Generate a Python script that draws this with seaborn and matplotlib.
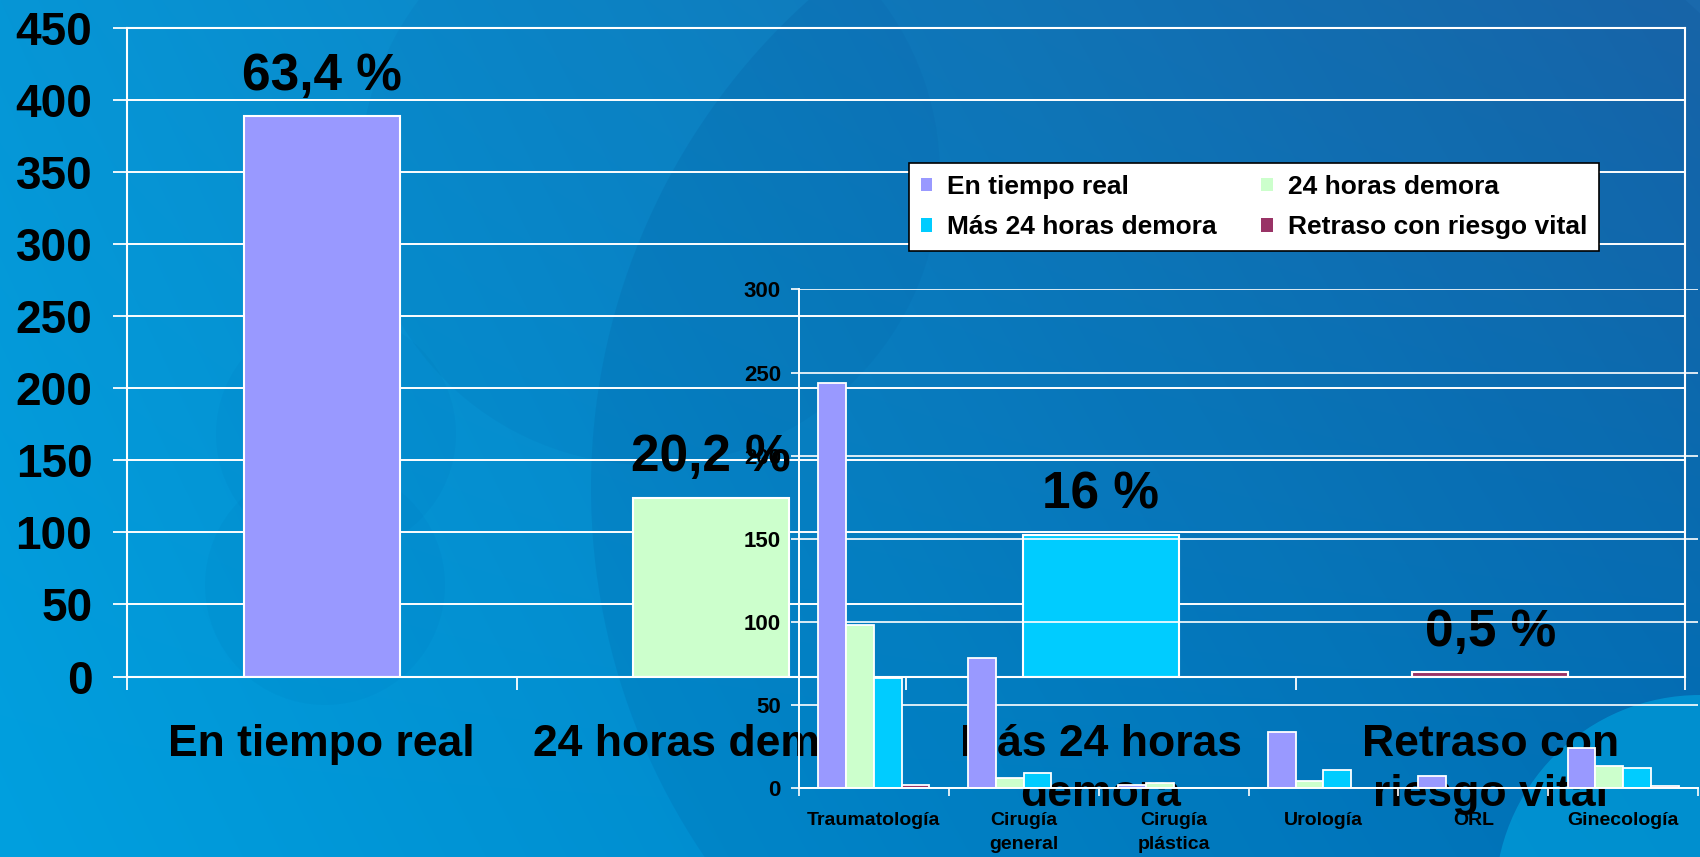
import numpy as np
import pandas as pd
import matplotlib
matplotlib.use("Agg")
import matplotlib.pyplot as plt
import seaborn as sns
from matplotlib.patches import Circle, Patch

# ---------------- data ----------------
main_categories = ["En tiempo real", "24 horas demora", "Más 24 horas\ndemora", "Retraso con\nriesgo vital"]
main_values = [389, 124, 98, 3]
main_percent_labels = ["63,4 %", "20,2 %", "16 %", "0,5 %"]
main_yticks = [0, 50, 100, 150, 200, 250, 300, 350, 400, 450]

series_names = ["En tiempo real", "24 horas demora", "Más 24 horas demora", "Retraso con riesgo vital"]
specialties = ["Traumatología", "Cirugía\ngeneral", "Cirugía\nplástica", "Urología", "ORL", "Ginecología"]
en_tiempo_real = [244, 78, 2, 34, 7, 24]
horas_24_demora = [98, 6, 3, 4, 0, 13]
mas_24_horas_demora = [66, 9, 0, 11, 0, 12]
retraso_riesgo_vital = [2, 0, 0, 0, 0, 1]
inset_yticks = [0, 50, 100, 150, 200, 250, 300]

colors = ["#9999FF", "#CCFFCC", "#00CCFF", "#993366"]

# ---------------- style ----------------
sns.set_style("white")
plt.rcParams["font.family"] = ["Liberation Sans", "DejaVu Sans"]
plt.rcParams["font.weight"] = "bold"
plt.rcParams["text.color"] = "black"
plt.rcParams["xtick.labelcolor"] = "black"
plt.rcParams["ytick.labelcolor"] = "black"

W, H = 1700, 857
fig = plt.figure(figsize=(W / 100, H / 100), dpi=100)

# background gradient
bg = fig.add_axes([0, 0, 1, 1], zorder=0)
yy, xx = np.mgrid[0:H, 0:W]
u = (xx / W)[..., None]
v = (yy / H)[..., None]
TL = np.array([6, 150, 214])
TR = np.array([27, 105, 172])
BL = np.array([0, 160, 223])
BR = np.array([0, 118, 188])
img = TL * (1 - u) * (1 - v) + TR * u * (1 - v) + BL * (1 - u) * v + BR * u * v
bg.imshow(img / 255.0, extent=[0, W, H, 0], aspect="auto", interpolation="bilinear")
bg.set_xlim(0, W)
bg.set_ylim(H, 0)
bg.axis("off")
dark = (0.0, 0.22, 0.5)
bg.add_patch(Circle((1247, 488), 656, facecolor=dark, alpha=0.10, lw=0))
bg.add_patch(Circle((650, 175), 290, facecolor=dark, alpha=0.05, lw=0))
bg.add_patch(Circle((336, 434), 120, facecolor=dark, alpha=0.035, lw=0))
bg.add_patch(Circle((325, 585), 120, facecolor=dark, alpha=0.035, lw=0))
bg.add_patch(Circle((1700, 900), 205, facecolor=(0.0, 0.62, 0.86), alpha=0.7, lw=0))

# ---------------- main chart ----------------
ax = fig.add_axes([127 / W, (H - 676.5) / H, (1685 - 127) / W, (676.5 - 28) / H], zorder=1)
ax.patch.set_alpha(0)
df_main = pd.DataFrame({"cat": main_categories, "val": main_values})
sns.barplot(data=df_main, x="cat", y="val", hue="cat", palette=colors, width=0.4,
            edgecolor="white", linewidth=1.5, saturation=1, legend=False, ax=ax)
ax.set_xlim(-0.5, 3.5)
ax.set_ylim(0, 450)
ax.set_yticks(main_yticks)
ax.set_xlabel("")
ax.set_ylabel("")
ax.grid(axis="y", color="white", lw=1.4)
ax.grid(axis="x", visible=False)
ax.set_axisbelow(True)
for s in ax.spines.values():
    s.set_color("white")
    s.set_linewidth(1.5)
    s.set_visible(True)
ax.tick_params(axis="y", length=10, width=1.3, color="white", pad=15, labelsize=33,
               left=True, labelcolor="black")
ax.tick_params(axis="x", which="major", length=0, pad=34, labelsize=32, labelcolor="black")
ax.set_xticks(np.arange(-0.5, 4, 1), minor=True)
ax.tick_params(axis="x", which="minor", length=9, width=1.3, color="white", bottom=True)
for lbl in ax.get_xticklabels():
    lbl.set_linespacing(1.28)
    lbl.set_fontweight("bold")
for lbl in ax.get_yticklabels():
    lbl.set_fontweight("bold")
for i, (v_, t) in enumerate(zip(main_values, main_percent_labels)):
    ax.annotate(t, (i, v_), xytext=(0, 19), textcoords="offset points", ha="center",
                va="baseline", fontsize=37, fontweight="bold", color="black")

# ---------------- inset chart ----------------
ins = fig.add_axes([799 / W, (H - 788) / H, (1698 - 799) / W, (788 - 289.5) / H], zorder=2)
ins.patch.set_alpha(0)
df_in = pd.DataFrame({
    "Especialidad": specialties * 4,
    "Serie": sum([[s] * len(specialties) for s in series_names], []),
    "Valor": en_tiempo_real + horas_24_demora + mas_24_horas_demora + retraso_riesgo_vital,
})
sns.barplot(data=df_in, x="Especialidad", y="Valor", hue="Serie", order=specialties,
            hue_order=series_names, palette=colors, width=0.74, edgecolor="white",
            linewidth=1.3, saturation=1, legend=False, ax=ins)
ins.set_xlim(-0.5, 5.5)
ins.set_ylim(0, 300)
ins.set_yticks(inset_yticks)
ins.set_xlabel("")
ins.set_ylabel("")
ins.grid(axis="y", color="white", lw=1.2)
ins.grid(axis="x", visible=False)
ins.set_axisbelow(True)
for k, s in ins.spines.items():
    s.set_color("white")
    s.set_linewidth(1.4)
ins.spines["top"].set_visible(False)
ins.spines["right"].set_visible(False)
ins.spines["left"].set_visible(True)
ins.spines["bottom"].set_visible(True)
ins.tick_params(axis="y", length=6, width=1.2, color="white", pad=7, labelsize=16,
                left=True, labelcolor="black")
ins.tick_params(axis="x", which="major", length=0, pad=17, labelsize=14, labelcolor="black")
ins.set_xticks(np.arange(-0.5, 6, 1), minor=True)
ins.tick_params(axis="x", which="minor", length=6, width=1.2, color="white", bottom=True)
for lbl in ins.get_xticklabels():
    lbl.set_linespacing(1.55)
    lbl.set_fontweight("bold")
for lbl in ins.get_yticklabels():
    lbl.set_fontweight("bold")

# ---------------- legend ----------------
handles = [Patch(facecolor=c, edgecolor="none", label=n) for c, n in zip(colors, series_names)]
order = [0, 2, 1, 3]
leg = fig.legend(handles=[handles[i] for i in order], ncol=2, loc="upper left",
                 bbox_to_anchor=(909 / W, 1 - 163 / H), frameon=True, fancybox=False,
                 edgecolor="black", facecolor="white", framealpha=1,
                 prop={"size": 19, "weight": "bold"}, handlelength=0.42, handleheight=0.42,
                 handletextpad=0.57, columnspacing=1.7, borderpad=0.45, labelspacing=0.62,
                 borderaxespad=0)
leg.get_frame().set_linewidth(1.2)
for t in leg.get_texts():
    t.set_color("black")
leg.set_zorder(10)

fig.savefig("out.png", dpi=100)
